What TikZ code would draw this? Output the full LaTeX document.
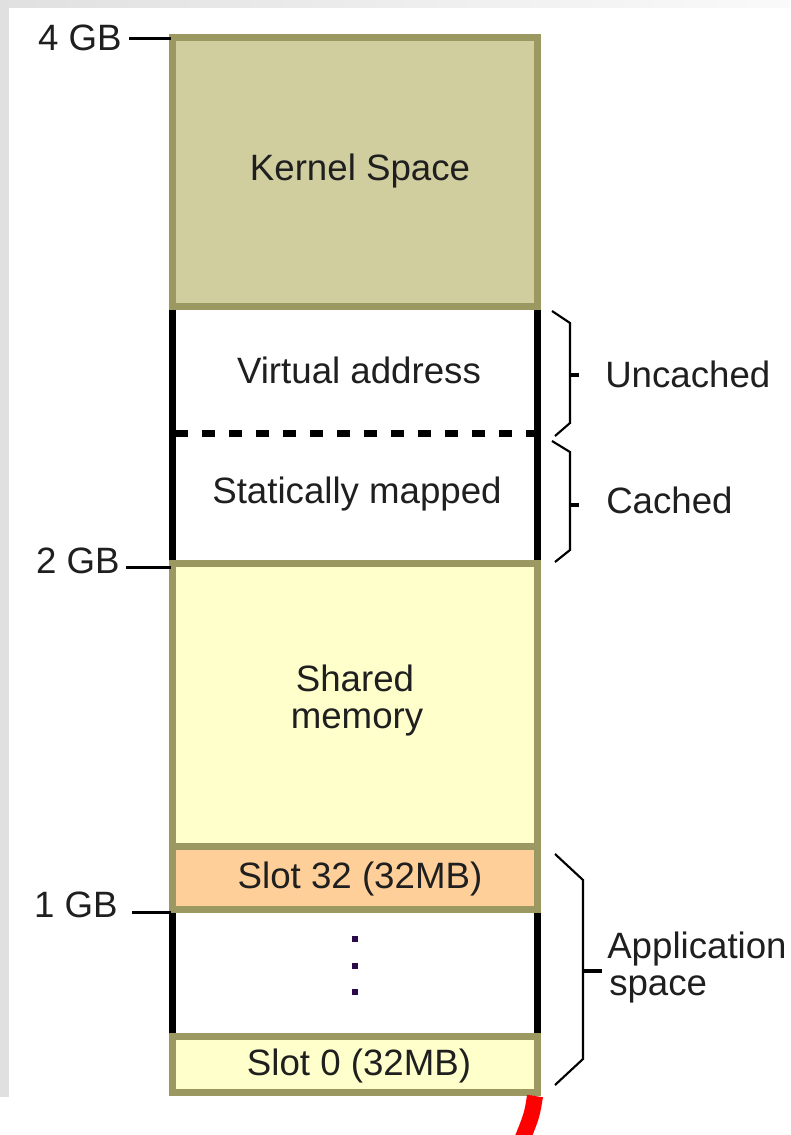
\documentclass[tikz,border=0pt]{standalone}
\usepackage{fontspec}
\setmainfont{Liberation Sans}
\definecolor{olive}{HTML}{9B9862}
\definecolor{kernelfill}{HTML}{D0CE9E}
\definecolor{lightyel}{HTML}{FFFFCC}
\definecolor{peach}{HTML}{FFCF9A}
\definecolor{dotcol}{HTML}{2A0A48}
\begin{document}
\begin{tikzpicture}[x=0.75pt,y=-0.75pt,
  txt/.style={inner sep=0pt,anchor=base,font=\fontsize{27.5pt}{33pt}\selectfont,text=black!88},
  lbl/.style={inner sep=0pt,anchor=base west,font=\fontsize{27.5pt}{33pt}\selectfont,text=black!88},
  gbl/.style={inner sep=0pt,anchor=base east,font=\fontsize{27.5pt}{33pt}\selectfont,text=black!88},
  membox/.style={draw=olive,line width=5.25pt},
  sidebar/.style={draw=black,line width=5.25pt},
  tick/.style={draw=black,line width=2.25pt},
  bracepath/.style={draw=black,line width=1.6pt},
  bracetick/.style={draw=black,line width=2.4pt}]
\useasboundingbox (0,0) rectangle (790,1135);
\fill[white] (0,0) rectangle (790,1135);
% frame shading
\shade[left color=black!12,right color=black!2] (0,0) rectangle (790,7);
\fill[black!12] (0,0) rectangle (9,1097);
% black side bars
\draw[sidebar] (172.5,306) -- (172.5,564);
\draw[sidebar] (537.5,306) -- (537.5,564);
\draw[sidebar] (172.5,909) -- (172.5,1037);
\draw[sidebar] (537.5,909) -- (537.5,1037);
% dashed separator
\draw[black,line width=5.25pt,dash pattern=on 9.75pt off 10.5pt] (175,433.5) -- (536,433.5);
% boxes
\draw[membox,fill=kernelfill] (172.5,37) rectangle (537.5,306.5);
\draw[membox,fill=lightyel] (172.5,563) rectangle (537.5,846.5);
\draw[membox,fill=peach] (172.5,846.5) rectangle (537.5,909.5);
\draw[membox,fill=lightyel] (172.5,1036) rectangle (537.5,1092.5);
% texts inside
\node[txt] (kernel) at (360,180) {Kernel Space};
\node[txt] (virt) at (359,383) {Virtual address};
\node[txt] (stat) at (357,503) {Statically mapped};
\node[txt] (shared) at (355,691) {Shared};
\node[txt] (memory) at (357,728) {memory};
\node[txt] (slot32) at (360,888) {Slot 32 (32MB)};
\node[txt] (slot0) at (359,1075) {Slot 0 (32MB)};
% dots
\fill[dotcol] (352,936) rectangle (358,942);
\fill[dotcol] (352,963) rectangle (358,969);
\fill[dotcol] (352,989) rectangle (358,995);
% GB labels
\node[gbl] (gb4) at (122,50) {4 GB};
\node[gbl] (gb2) at (120,573) {2 GB};
\node[gbl] (gb1) at (118,917) {1 GB};
\coordinate (t4a) at (129,38.5);  \coordinate (t4b) at (171,38.5);
\coordinate (t2a) at (126,567.5); \coordinate (t2b) at (171,567.5);
\coordinate (t1a) at (132,912);   \coordinate (t1b) at (171,912);
\draw[tick] (t4a) -- (t4b);
\draw[tick] (t2a) -- (t2b);
\draw[tick] (t1a) -- (t1b);
% braces
\draw[bracepath] (552,311) -- (570,323) -- (570,423) -- (555,436);
\draw[bracetick] (570,375) -- (579,375);
\draw[bracepath] (552,441) -- (570,452) -- (570,550) -- (555,562);
\draw[bracetick] (570,505) -- (579,505);
\draw[bracepath] (555,854) -- (583,880) -- (583,1059) -- (555,1085);
\draw[bracetick] (583,971) -- (602,971);
% right labels
\node[lbl] (unc) at (605,387) {Uncached};
\node[lbl] (cac) at (606,513) {Cached};
\node[lbl] (app) at (607,958) {Application};
\node[lbl] (spc) at (609,995) {space};
% red stroke at bottom
\draw[red,line width=12pt] (535,1096) .. controls (532,1115) .. (522,1140);
\end{tikzpicture}
\end{document}
